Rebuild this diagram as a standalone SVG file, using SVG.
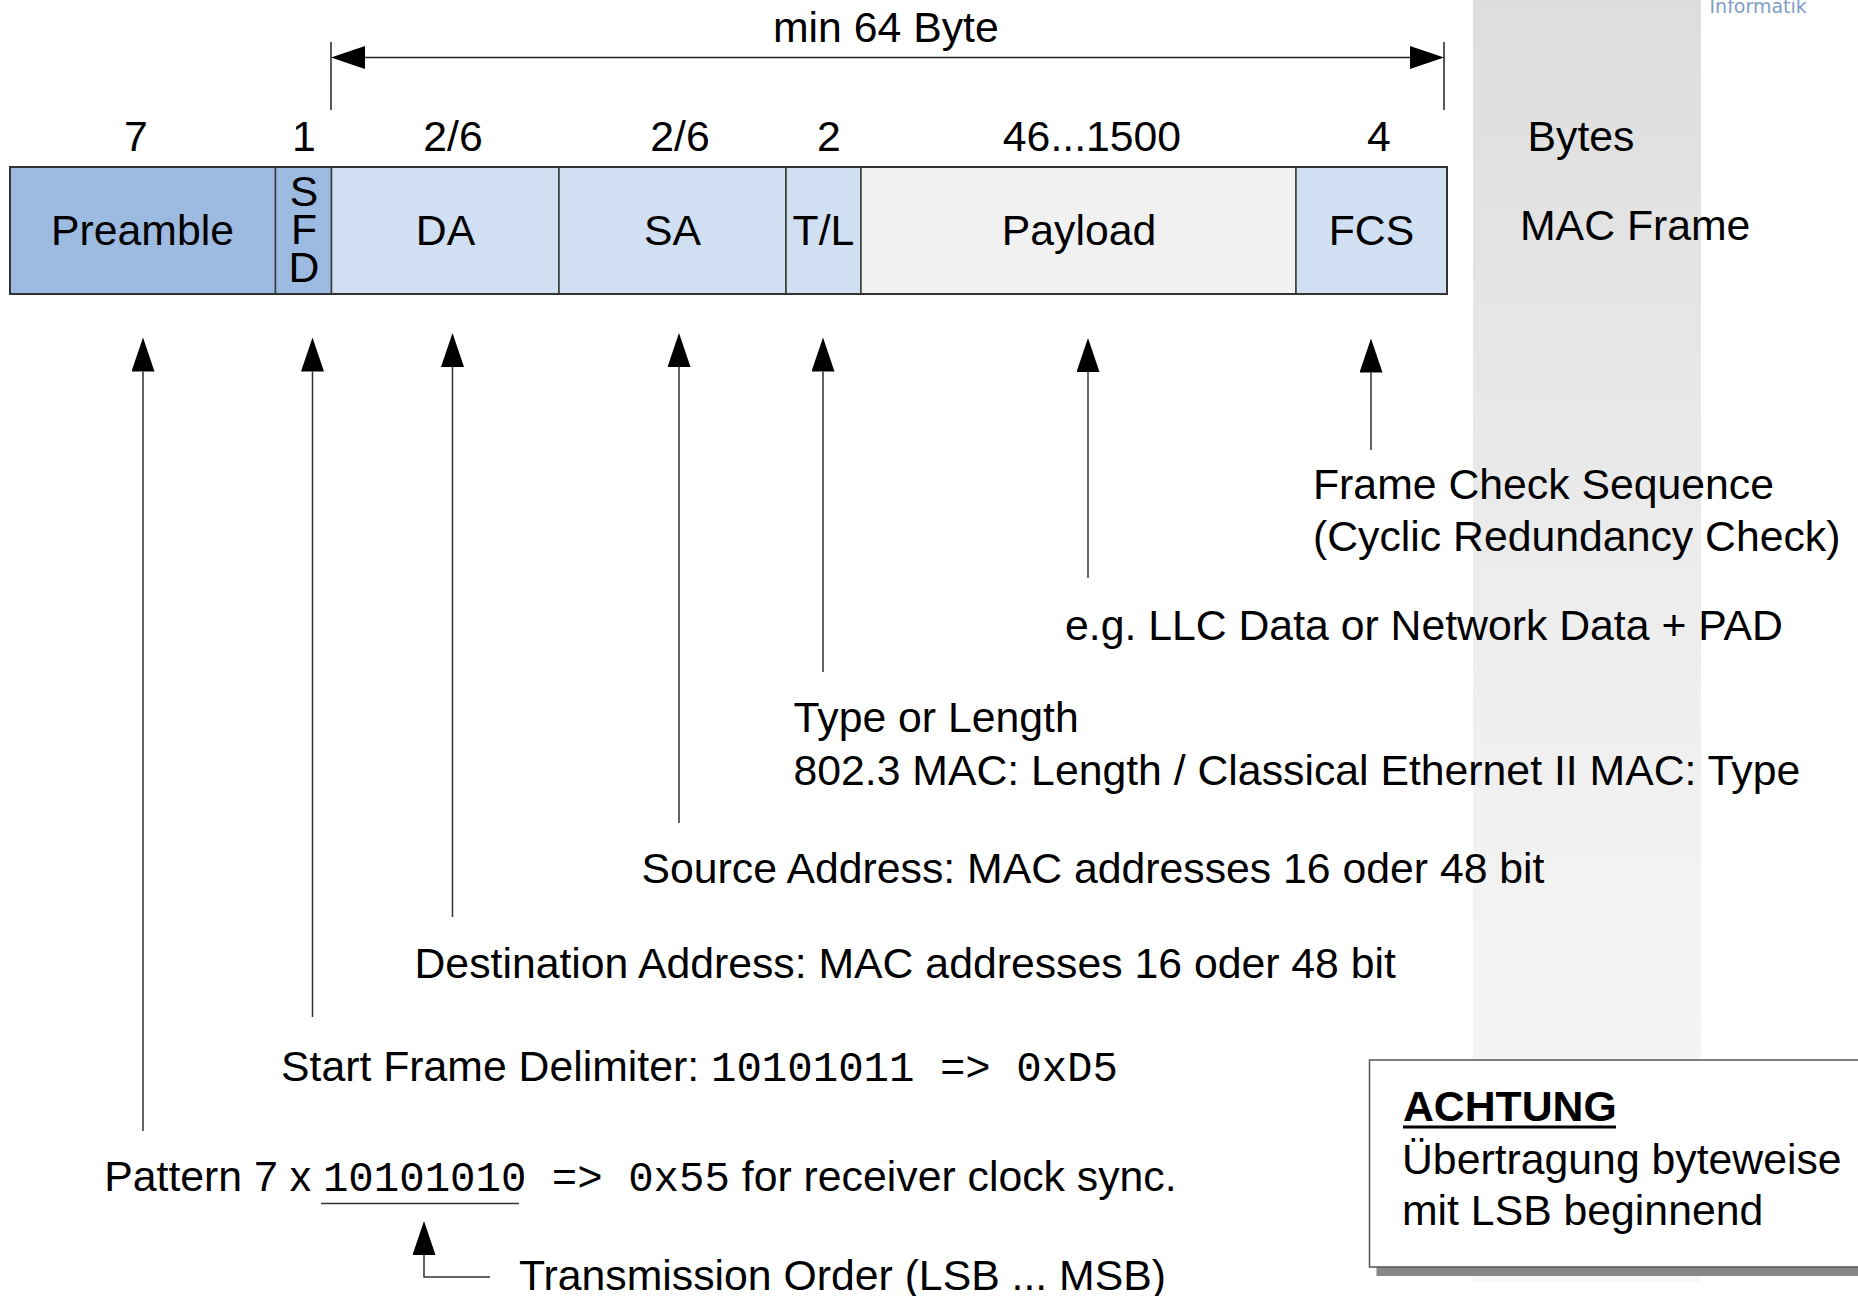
<svg xmlns="http://www.w3.org/2000/svg" width="1858" height="1296" viewBox="0 0 1858 1296">
  <defs>
    <linearGradient id="bandFill" x1="0" y1="0" x2="0" y2="1">
      <stop offset="0" stop-color="#dddddd"/>
      <stop offset="0.5" stop-color="#eeeeee"/>
      <stop offset="1" stop-color="#f8f8f8"/>
    </linearGradient>
    <!-- filled arrowhead; base sits on the line end, tip points forward -->
    <marker id="head" viewBox="0 0 34 23" refX="0" refY="11.5" markerWidth="34" markerHeight="23" markerUnits="userSpaceOnUse" orient="auto-start-reverse">
      <path d="M0,0 L34,11.5 L0,23 Z" fill="#000"/>
    </marker>
    <style>
      .t { font-family: "Liberation Sans", Arial, sans-serif; font-size: 42.75px; fill: #000; }
      .mono { font-family: "Liberation Mono", "Courier New", monospace; font-size: 42.4px; }
      .c { text-anchor: middle; }
      .b { font-weight: bold; }
      .field { stroke: #3a3a3a; stroke-width: 1.5; }
      .dark { fill: #9dbbe1; }
      .light { fill: #d0dff2; }
      .pay { fill: #f1f1f1; }
      .conn { fill: none; stroke: #333; stroke-width: 1.5; }
      .tick { stroke: #222; stroke-width: 1.5; }
    </style>
  </defs>

  <rect width="1858" height="1296" fill="#fff"/>

  <!-- shaded side band -->
  <rect id="band" x="1473" y="0" width="228" height="1282" fill="url(#bandFill)"/>
  <text x="1709.5" y="13" font-family="DejaVu Sans, sans-serif" font-size="19" fill="#7f9cc8">Informatik</text>

  <!-- MAC frame fields -->
  <g id="frame">
    <g id="f-preamble">
      <rect class="field dark" x="10" y="167" width="265.5" height="127"/>
      <text class="t c" x="142.5" y="245">Preamble</text>
    </g>
    <g id="f-sfd">
      <rect class="field dark" x="275.5" y="167" width="56" height="127"/>
      <text class="t c" x="304" y="206" font-size="38">S</text>
      <text class="t c" x="304" y="244" font-size="38">F</text>
      <text class="t c" x="304" y="282" font-size="38">D</text>
    </g>
    <g id="f-da">
      <rect class="field light" x="331.5" y="167" width="227.5" height="127"/>
      <text class="t c" x="445.5" y="245">DA</text>
    </g>
    <g id="f-sa">
      <rect class="field light" x="559" y="167" width="227" height="127"/>
      <text class="t c" x="672.5" y="245">SA</text>
    </g>
    <g id="f-tl">
      <rect class="field light" x="786" y="167" width="75" height="127"/>
      <text class="t c" x="823.5" y="245">T/L</text>
    </g>
    <g id="f-payload">
      <rect class="field pay" x="861" y="167" width="435" height="127"/>
      <text class="t c" x="1079" y="245">Payload</text>
    </g>
    <g id="f-fcs">
      <rect class="field light" x="1296" y="167" width="151" height="127"/>
      <text class="t c" x="1371.5" y="245">FCS</text>
    </g>
    <rect x="10" y="167" width="1437" height="127" fill="none" stroke="#333" stroke-width="2"/>
  </g>

  <!-- field sizes -->
  <g id="sizes">
    <text class="t c" x="136" y="151">7</text>
    <text class="t c" x="304" y="151">1</text>
    <text class="t c" x="453" y="151">2/6</text>
    <text class="t c" x="680" y="151">2/6</text>
    <text class="t c" x="829" y="151">2</text>
    <text class="t c" x="1092" y="151">46...1500</text>
    <text class="t c" x="1379" y="151">4</text>
    <text class="t" x="1527.5" y="151">Bytes</text>
    <text class="t" x="1520" y="240">MAC Frame</text>
  </g>

  <!-- minimum length dimension -->
  <g id="dimension">
    <line class="tick" x1="331" y1="42" x2="331" y2="110"/>
    <line class="tick" x1="1444" y1="42" x2="1444" y2="110"/>
    <line class="tick" x1="365" y1="57.5" x2="1410" y2="57.5" marker-start="url(#head)" marker-end="url(#head)"/>
    <text class="t" x="773" y="42">min 64 Byte</text>
  </g>

  <!-- pointers from descriptions up to the fields -->
  <g id="connectors">
    <line class="conn" x1="143" y1="1131" x2="143" y2="371.5" marker-end="url(#head)"/>
    <line class="conn" x1="312.5" y1="1017" x2="312.5" y2="371.5" marker-end="url(#head)"/>
    <line class="conn" x1="452.5" y1="917" x2="452.5" y2="367" marker-end="url(#head)"/>
    <line class="conn" x1="679" y1="823" x2="679" y2="367" marker-end="url(#head)"/>
    <line class="conn" x1="823" y1="672" x2="823" y2="371.5" marker-end="url(#head)"/>
    <line class="conn" x1="1088" y1="578" x2="1088" y2="372" marker-end="url(#head)"/>
    <line class="conn" x1="1371" y1="450" x2="1371" y2="372.5" marker-end="url(#head)"/>
    <path class="conn" d="M490,1277 H424 V1255" marker-end="url(#head)"/>
  </g>

  <!-- field descriptions -->
  <g id="d-fcs">
    <text class="t" x="1313" y="499">Frame Check Sequence</text>
    <text class="t" x="1313" y="551">(Cyclic Redundancy Check)</text>
  </g>
  <g id="d-payload">
    <text class="t" x="1065" y="640">e.g. LLC Data or Network Data + PAD</text>
  </g>
  <g id="d-tl">
    <text class="t" x="793.5" y="732">Type or Length</text>
    <text class="t" x="793.5" y="785">802.3 MAC: Length / Classical Ethernet II MAC: Type</text>
  </g>
  <g id="d-sa">
    <text class="t" x="641.5" y="883">Source Address: MAC addresses 16 oder 48 bit</text>
  </g>
  <g id="d-da">
    <text class="t" x="414.5" y="978">Destination Address: MAC addresses 16 oder 48 bit</text>
  </g>
  <g id="d-sfd">
    <text class="t" x="281" y="1081">Start Frame Delimiter: <tspan class="mono">10101011 =&gt; 0xD5</tspan></text>
  </g>
  <g id="d-preamble">
    <text class="t" x="104.3" y="1191">Pattern 7 x <tspan class="mono">10101010 =&gt; 0x55</tspan> for receiver clock sync.</text>
    <line x1="321" y1="1203.5" x2="519" y2="1203.5" stroke="#333" stroke-width="1.5"/>
  </g>
  <g id="d-order">
    <text class="t" x="519" y="1290">Transmission Order (LSB ... MSB)</text>
  </g>

  <!-- note box -->
  <g id="note">
    <rect x="1376.5" y="1069" width="520" height="207" fill="#888"/>
    <rect x="1369.5" y="1060" width="520" height="207" fill="#fff" stroke="#555" stroke-width="1.5"/>
    <text class="t b" x="1403" y="1121">ACHTUNG</text>
    <line x1="1403" y1="1127" x2="1616" y2="1127" stroke="#000" stroke-width="3"/>
    <text class="t" x="1402" y="1174">Übertragung byteweise</text>
    <text class="t" x="1402" y="1225">mit LSB beginnend</text>
  </g>
</svg>
